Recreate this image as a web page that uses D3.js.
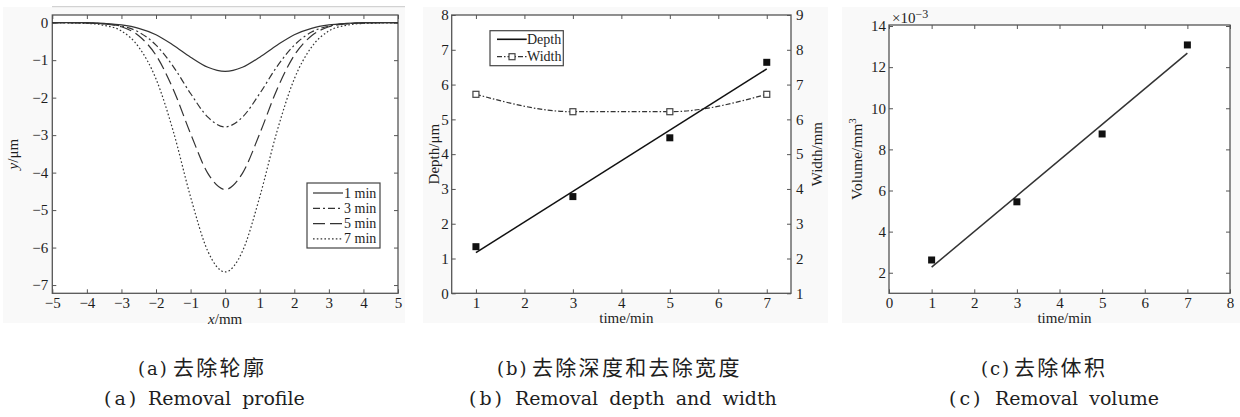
<!DOCTYPE html>
<html><head><meta charset="utf-8">
<script src="https://cdn.jsdelivr.net/npm/d3@7"></script>
<style>
html,body{margin:0;padding:0;background:#fff;}
svg{display:block;}
</style></head>
<body>
<svg id="c" width="1240" height="417"></svg>
<script>
// ---------- DATA ----------
// (a) removal profiles
const profX  = [-5,-4.5,-4,-3.5,-3,-2.5,-2,-1.5,-1,-0.5,0,0.5,1,1.5,2,2.5,3,3.5,4,4.5,5];
const prof1  = [0,0,0,-0.02,-0.06,-0.15,-0.32,-0.60,-0.92,-1.19,-1.30,-1.19,-0.92,-0.60,-0.32,-0.15,-0.06,-0.02,0,0,0];
const prof3  = [0,0,-0.01,-0.03,-0.09,-0.25,-0.60,-1.17,-1.89,-2.52,-2.78,-2.52,-1.89,-1.17,-0.60,-0.25,-0.09,-0.03,-0.01,0,0];
const prof5  = [0,0,-0.01,-0.03,-0.11,-0.35,-0.87,-1.78,-2.96,-4.02,-4.45,-4.02,-2.96,-1.78,-0.87,-0.35,-0.11,-0.03,-0.01,0,0];
const prof7  = [0,-0.01,-0.02,-0.07,-0.22,-0.65,-1.50,-2.90,-4.65,-6.10,-6.65,-6.10,-4.65,-2.90,-1.50,-0.65,-0.22,-0.07,-0.02,-0.01,0];
const profNames = ["1 min","3 min","5 min","7 min"];
const profXTicks = [-5,-4,-3,-2,-1,0,1,2,3,4,5];
const profYTicks = [0,-1,-2,-3,-4,-5,-6,-7];

// (b) depth and width
const times      = [1,3,5,7];
const depth      = [1.34,2.78,4.47,6.64];
const depthFitT  = [1,7];
const depthFit   = [1.17,6.45];
const width      = [6.72,6.22,6.22,6.72];
const bXTicks    = [1,2,3,4,5,6,7];
const bLeftTicks = [0,1,2,3,4,5,6,7,8];
const bRightTicks= [1,2,3,4,5,6,7,8,9];
const bNames     = ["Depth","Width"];

// (c) volume (x10^-3 mm^3)
const volume     = [2.62,5.45,8.75,13.08];
const volFitT    = [1,7];
const volFit     = [2.27,12.68];
const cXTicks    = [0,1,2,3,4,5,6,7,8];
const cYTicks    = [2,4,6,8,10,12,14];

// captions
const capTags    = ["(a)","(b)","(c)"];
const captionsCN = ["去除轮廓","去除深度和去除宽度","去除体积"];
const captionsEN = ["Removal profile","Removal depth and width","Removal volume"];

// ---------- DRAW ----------
const svg = d3.select("#c");
const serif = '"Liberation Serif","Times New Roman",serif';
const frameCol = "#555", lineCol = "#333", textCol = "#1e1e1e";

// light panel backgrounds
[[3,7,402,316],[423,7,405,316],[842,7,398,316]].forEach(r=>{
  svg.append("rect").attr("x",r[0]).attr("y",r[1]).attr("width",r[2]).attr("height",r[3]).attr("fill","#f9f9f9");
});
svg.append("line").attr("x1",52).attr("x2",405).attr("y1",6.7).attr("y2",6.7).attr("stroke","#c8c8c8").attr("stroke-width",1);

function frame(x0,x1,y0,y1){
  svg.append("rect").attr("x",x0).attr("y",y0).attr("width",x1-x0).attr("height",y1-y0)
    .attr("fill","#fff").attr("stroke",frameCol).attr("stroke-width",1.3);
}
function axis(gen, tx, ty){
  const g = svg.append("g").attr("transform",`translate(${tx},${ty})`).call(gen);
  g.select(".domain").remove();
  g.attr("font-family",serif).attr("font-size",15);
  g.selectAll("text").attr("font-family",serif).attr("font-size",15).attr("fill",textCol);
  g.selectAll("line").attr("stroke",frameCol).attr("stroke-width",1);
  return g;
}
const fmtI = d3.format("d");

// ===== Panel (a) =====
{
  const x0=52.3,x1=398,y0=15,y1=293.3;
  frame(x0,x1,y0,y1);
  const x=d3.scaleLinear().domain([-5,5]).range([x0,x1]);
  const y=d3.scaleLinear().domain([-7.22,0.205]).range([y1,y0]);
  const fmt=d=>d<0?"\u2212"+Math.abs(d):String(d);
  axis(d3.axisBottom(x).tickValues(profXTicks).tickSize(-4).tickPadding(4).tickFormat(fmt),0,y1);
  axis(d3.axisTop(x).tickValues(profXTicks).tickSize(-4).tickFormat(""),0,y0);
  axis(d3.axisLeft(y).tickValues(profYTicks).tickSize(-4).tickPadding(4).tickFormat(fmt),x0,0);
  axis(d3.axisRight(y).tickValues(profYTicks).tickSize(-4).tickFormat(""),x1,0);
  const series=[prof1,prof3,prof5,prof7];
  const dashes=[null,"7,3,2,3","12,5","1.6,2.2"];
  const ln=d3.line().x((d,i)=>x(profX[i])).y(d=>y(d)).curve(d3.curveMonotoneX);
  series.forEach((s,k)=>{
    svg.append("path").attr("d",ln(s)).attr("fill","none").attr("stroke",lineCol)
      .attr("stroke-width",1.2).attr("stroke-dasharray",dashes[k]);
  });
  // legend
  svg.append("rect").attr("x",307).attr("y",183).attr("width",73).attr("height",65)
    .attr("fill","#fff").attr("stroke","#444").attr("stroke-width",1.2);
  profNames.forEach((n,k)=>{
    const yy=193+k*15.3;
    svg.append("line").attr("x1",313).attr("x2",343).attr("y1",yy).attr("y2",yy)
      .attr("stroke",lineCol).attr("stroke-width",1.2).attr("stroke-dasharray",dashes[k]);
    svg.append("text").attr("x",344).attr("y",yy+4.5).attr("font-family",serif).attr("font-size",14)
      .attr("fill",textCol).text(n);
  });
  // axis labels
  const xl=svg.append("text").attr("x",(x0+x1)/2).attr("y",324).attr("text-anchor","middle")
    .attr("font-family",serif).attr("font-size",15).attr("fill",textCol);
  xl.append("tspan").attr("font-style","italic").text("x");
  xl.append("tspan").text("/mm");
  const yl=svg.append("text").attr("transform",`translate(18,${(y0+y1)/2}) rotate(-90)`).attr("text-anchor","middle")
    .attr("font-family",serif).attr("font-size",15).attr("fill",textCol);
  yl.append("tspan").attr("font-style","italic").text("y");
  yl.append("tspan").text("/\u03bcm");
}

// ===== Panel (b) =====
{
  const x0=451.7,x1=791,y0=15,y1=293.3;
  frame(x0,x1,y0,y1);
  const x=d3.scaleLinear().domain([0.5,7.5]).range([x0,x1]);
  const yL=d3.scaleLinear().domain([0,8]).range([y1,y0]);
  const yR=d3.scaleLinear().domain([1,9]).range([y1,y0]);
  axis(d3.axisBottom(x).tickValues(bXTicks).tickSize(-4).tickPadding(4).tickFormat(fmtI),0,y1);
  axis(d3.axisTop(x).tickValues(bXTicks).tickSize(-4).tickFormat(""),0,y0);
  axis(d3.axisLeft(yL).tickValues(bLeftTicks).tickSize(-4).tickPadding(3).tickFormat(fmtI),x0,0);
  axis(d3.axisRight(yR).tickValues(bRightTicks).tickSize(-4).tickPadding(5).tickFormat(fmtI),x1,0);
  // width line
  const wl=d3.line().x((d,i)=>x(times[i])).y(d=>yR(d)).curve(d3.curveMonotoneX);
  svg.append("path").attr("d",wl(width)).attr("fill","none").attr("stroke",lineCol)
    .attr("stroke-width",1.2).attr("stroke-dasharray","5,2,1.5,2");
  svg.selectAll(null).data(width).enter().append("rect")
    .attr("x",(d,i)=>x(times[i])-3).attr("y",d=>yR(d)-3).attr("width",6).attr("height",6)
    .attr("fill","#fff").attr("stroke","#444").attr("stroke-width",1.2);
  // depth fit
  const fl=d3.line().x((d,i)=>x(depthFitT[i])).y(d=>yL(d));
  svg.append("path").attr("d",fl(depthFit)).attr("fill","none").attr("stroke","#111").attr("stroke-width",1.6);
  svg.selectAll(null).data(depth).enter().append("rect")
    .attr("x",(d,i)=>x(times[i])-3.5).attr("y",d=>yL(d)-3.5).attr("width",7).attr("height",7).attr("fill","#111");
  // legend
  svg.append("rect").attr("x",490).attr("y",30.7).attr("width",73.3).attr("height",35)
    .attr("fill","#fff").attr("stroke","#444").attr("stroke-width",1.2);
  svg.append("line").attr("x1",497).attr("x2",526.7).attr("y1",39.3).attr("y2",39.3).attr("stroke","#111").attr("stroke-width",1.6);
  svg.append("line").attr("x1",497).attr("x2",526.7).attr("y1",56.7).attr("y2",56.7).attr("stroke",lineCol)
    .attr("stroke-width",1.2).attr("stroke-dasharray","5,2,1.5,2");
  svg.append("rect").attr("x",509).attr("y",53.7).attr("width",6).attr("height",6)
    .attr("fill","#fff").attr("stroke","#444").attr("stroke-width",1.2);
  bNames.forEach((n,k)=>{
    svg.append("text").attr("x",527).attr("y",[39.3,56.7][k]+4.5).attr("font-family",serif).attr("font-size",14)
      .attr("fill",textCol).text(n);
  });
  svg.append("text").attr("x",(x0+x1)/2+5).attr("y",323).attr("text-anchor","middle")
    .attr("font-family",serif).attr("font-size",15).attr("fill",textCol).text("time/min");
  svg.append("text").attr("transform",`translate(439,${(y0+y1)/2}) rotate(-90)`).attr("text-anchor","middle")
    .attr("font-family",serif).attr("font-size",15).attr("fill",textCol).text("Depth/\u03bcm");
  svg.append("text").attr("transform",`translate(822,${(y0+y1)/2}) rotate(-90)`).attr("text-anchor","middle")
    .attr("font-family",serif).attr("font-size",15).attr("fill",textCol).text("Width/mm");
}

// ===== Panel (c) =====
{
  const x0=889,x1=1230,y0=25,y1=293.3;
  frame(x0,x1,y0,y1);
  const x=d3.scaleLinear().domain([0,8]).range([x0,x1]);
  const y=d3.scaleLinear().domain([1,14.05]).range([y1,y0]);
  axis(d3.axisBottom(x).tickValues(cXTicks).tickSize(-4).tickPadding(4).tickFormat(fmtI),0,y1);
  axis(d3.axisTop(x).tickValues(cXTicks).tickSize(-4).tickFormat(""),0,y0);
  axis(d3.axisLeft(y).tickValues(cYTicks).tickSize(-4).tickPadding(3).tickFormat(fmtI),x0,0);
  axis(d3.axisRight(y).tickValues(cYTicks).tickSize(-4).tickFormat(""),x1,0);
  const fl=d3.line().x((d,i)=>x(volFitT[i])).y(d=>y(d));
  svg.append("path").attr("d",fl(volFit)).attr("fill","none").attr("stroke",lineCol).attr("stroke-width",1.5);
  svg.selectAll(null).data(volume).enter().append("rect")
    .attr("x",(d,i)=>x(times[i])-3.5).attr("y",d=>y(d)-3.5).attr("width",7).attr("height",7).attr("fill","#111");
  const m=svg.append("text").attr("x",892).attr("y",22.5).attr("font-family",serif).attr("font-size",15).attr("fill",textCol);
  m.append("tspan").text("\u00d710");
  m.append("tspan").attr("dy",-5).attr("font-size",12).text("\u22123");
  svg.append("text").attr("x",(x0+x1)/2+5).attr("y",323).attr("text-anchor","middle")
    .attr("font-family",serif).attr("font-size",15).attr("fill",textCol).text("time/min");
  const yl=svg.append("text").attr("transform",`translate(862,${(y0+y1)/2}) rotate(-90)`).attr("text-anchor","middle")
    .attr("font-family",serif).attr("font-size",15.5).attr("fill",textCol);
  yl.append("tspan").text("Volume/mm");
  yl.append("tspan").attr("dy",-6).attr("font-size",11).text("3");
}

// ===== Captions =====
const cnTagX=[138,497,981], cnTextX=[173,532,1014];
const enTagX=[104,469,949], enTextX=[148,515,995];
const cjk='"Noto Sans CJK SC","Noto Sans CJK JP",sans-serif';
const dserif='"DejaVu Serif",serif';
captionsCN.forEach((t,i)=>{
  const tx=svg.append("text").attr("y",374.5).attr("fill",textCol);
  tx.append("tspan").attr("x",cnTagX[i]).attr("font-family",dserif).attr("font-size",18)
    .attr("letter-spacing",2).text(capTags[i]);
  tx.append("tspan").attr("x",cnTextX[i]).attr("font-family",cjk).attr("font-size",21)
    .attr("letter-spacing",2.3).text(t);
});
captionsEN.forEach((t,i)=>{
  const tx=svg.append("text").attr("y",405).attr("fill",textCol);
  tx.append("tspan").attr("x",enTagX[i]).attr("font-family",dserif).attr("font-size",19)
    .attr("letter-spacing",3).text(capTags[i]);
  tx.append("tspan").attr("x",enTextX[i]).attr("font-family",dserif).attr("font-size",19)
    .attr("word-spacing",5).text(t);
});
</script>
</body></html>
